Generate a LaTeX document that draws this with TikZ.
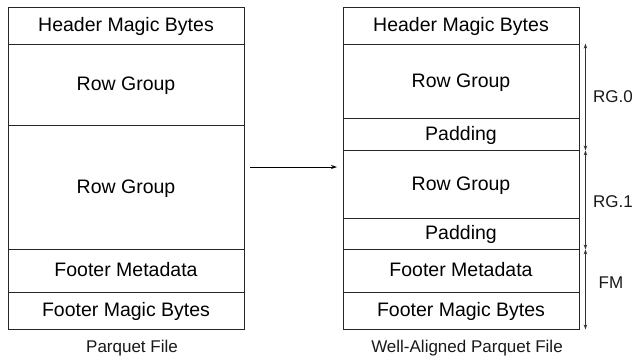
\documentclass[tikz,border=0pt]{standalone}
\usepackage{fontspec}
\setmainfont{Liberation Sans}
\usetikzlibrary{arrows.meta,calc}
\begin{document}
\begin{tikzpicture}[x=1pt,y=-1pt,
  cell/.style={draw=black!85,line width=0.9pt,minimum width=236pt,inner sep=0pt,
    font=\fontsize{19.5}{22}\selectfont,anchor=center,text height=14pt,text depth=2pt},
  caption/.style={font=\fontsize{17}{20}\selectfont,text=black!90},
  spanarrow/.style={draw=black!80,line width=0.8pt,{Stealth[length=5pt,width=3.5pt]}-{Stealth[length=5pt,width=3.5pt]}},
  flow/.style={draw=black,line width=0.8pt,-{Stealth[length=6pt,width=4pt]}}]
\useasboundingbox (0,0) rectangle (634,360);
% left file
\node[cell,minimum height=37pt]  (lh)  at (126,25.5)  {Header Magic Bytes};
\node[cell,minimum height=81pt]  (lr1) at (126,84.5)  {Row Group};
\node[cell,minimum height=124pt] (lr2) at (126,187)   {Row Group};
\node[cell,minimum height=43pt]  (lfm) at (126,270.5) {Footer Metadata};
\node[cell,minimum height=37pt]  (lfb) at (126,310.5) {Footer Magic Bytes};
\node[caption] (lcap) at (132,348) {Parquet File};
% right file
\node[cell,minimum height=37pt]  (rh)  at (461,25.5)  {Header Magic Bytes};
\node[cell,minimum height=74pt]  (rr1) at (461,81)    {Row Group};
\node[cell,minimum height=32pt]  (rp1) at (461,134)   {Padding};
\node[cell,minimum height=68pt]  (rr2) at (461,184)   {Row Group};
\node[cell,minimum height=31pt]  (rp2) at (461,233.5) {Padding};
\node[cell,minimum height=43pt]  (rfm) at (461,270.5) {Footer Metadata};
\node[cell,minimum height=37pt]  (rfb) at (461,310.5) {Footer Magic Bytes};
\node[caption] (rcap) at (467,348) {Well-Aligned Parquet File};
% span arrows
\coordinate (s0) at ($(rr1.north east)+(6,0)$);
\coordinate (s1) at ($(rp1.south east)+(6,0)$);
\coordinate (s2) at ($(rp2.south east)+(6,0)$);
\coordinate (s3) at ($(rfb.south east)+(6,0)$);
\draw[spanarrow] (s0) -- (s1);
\draw[spanarrow] (s1) -- (s2);
\draw[spanarrow] (s2) -- (s3);
\node[caption] (l0) at (613,97)  {RG.0};
\node[caption] (l1) at (613,202) {RG.1};
\node[caption] (l2) at (611,283) {FM};
% transform arrow
\coordinate (a0) at (250,167);
\coordinate (a1) at (337,167);
\draw[flow] (a0) -- (a1);
\end{tikzpicture}
\end{document}
